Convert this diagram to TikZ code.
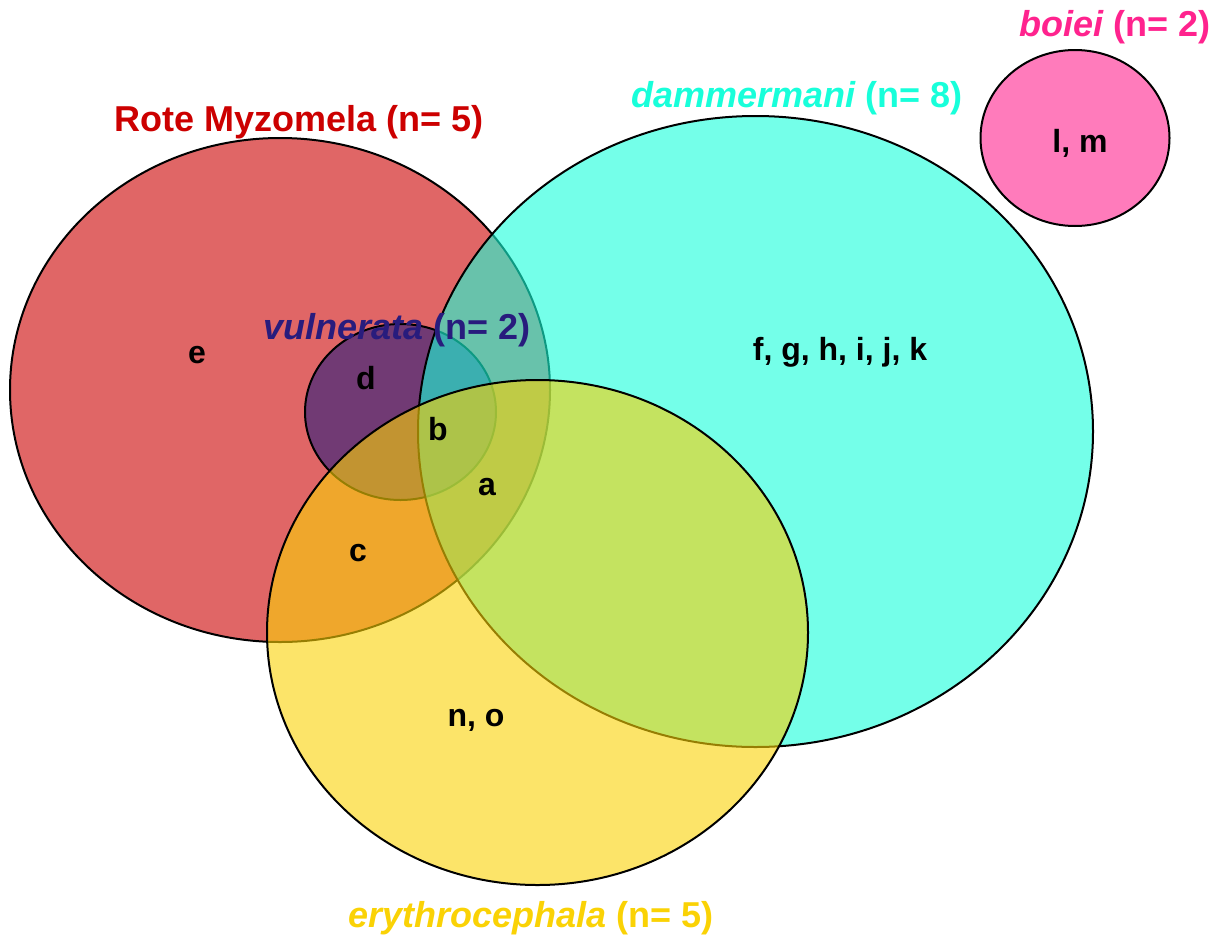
\documentclass[tikz,border=0pt]{standalone}
\usepackage{fontspec}
\setmainfont{Liberation Sans}
\usetikzlibrary{shapes.geometric}

% set colours (fills are these at 60% opacity)
\definecolor{roteRed}{RGB}{204,0,0}
\definecolor{dammCyan}{RGB}{24,255,218}
\definecolor{erythYellow}{RGB}{250,210,5}
\definecolor{vulnPurple}{RGB}{40,28,125}
\definecolor{boieiPink}{RGB}{255,35,142}

\begin{document}
\begin{tikzpicture}[x=1pt,y=-1pt,
  setshape/.style={ellipse, draw=black, line width=2pt, fill=#1,
    fill opacity=0.6, draw opacity=1, inner sep=0pt, outer sep=0pt},
  settitle/.style={text=#1, font=\fontsize{36}{40}\selectfont\bfseries,
    inner sep=0pt, anchor=base},
  itemlbl/.style={font=\fontsize{32}{36}\selectfont\bfseries, inner sep=0pt}]
\useasboundingbox (0,0) rectangle (1221,940);

% sets, back to front
\node[setshape=roteRed, minimum width=540pt, minimum height=504pt] (rote) at (280,390) {};
\node[setshape=vulnPurple, minimum width=191pt, minimum height=176pt] (vuln) at (400.5,412) {};
\node[setshape=dammCyan, minimum width=675pt, minimum height=631pt] (damm) at (755.5,431.5) {};
\node[setshape=erythYellow, minimum width=541pt, minimum height=505pt] (eryth) at (537.5,632.5) {};
\node[setshape=boieiPink, minimum width=189pt, minimum height=176pt] (boiei) at (1075,138) {};

% set titles
\node[settitle=roteRed] (tRote) at (299,131) {Rote Myzomela (n= 5)};
\node[settitle=dammCyan] (tDamm) at (797,107) {\itshape dammermani\upshape{} (n= 8)};
\node[settitle=boieiPink] (tBoiei) at (1115,36) {\itshape boiei\upshape{} (n= 2)};
\node[settitle=vulnPurple] (tVuln) at (397,339) {\itshape vulnerata\upshape{} (n= 2)};
\node[settitle=erythYellow] (tEryth) at (531,927) {\itshape erythrocephala\upshape{} (n= 5)};

% members
\node[itemlbl] (le) at (197,355) {e};
\node[itemlbl] (ld) at (366,378) {d};
\node[itemlbl] (lb) at (438,429) {b};
\node[itemlbl] (la) at (487,487) {a};
\node[itemlbl] (lc) at (358,553) {c};
\node[itemlbl] (lno) at (476,720) {n, o};
\node[itemlbl] (lfk) at (840,352) {f, g, h, i, j, k};
\node[itemlbl] (llm) at (1080,143) {l, m};
\end{tikzpicture}
\end{document}
